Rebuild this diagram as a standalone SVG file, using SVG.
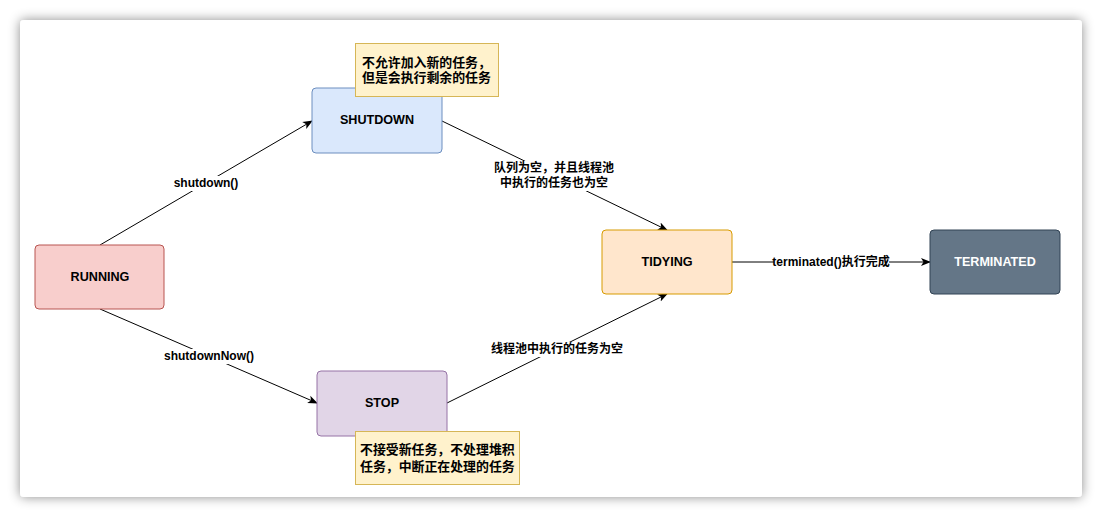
<svg xmlns="http://www.w3.org/2000/svg" width="1102" height="518" viewBox="0 0 1102 518">
<defs>
<filter id="sh" x="-5%" y="-10%" width="110%" height="120%">
<feDropShadow dx="0" dy="0" stdDeviation="6" flood-color="#000" flood-opacity="0.45"/>
</filter>
<marker id="arr" viewBox="0 0 10 10" refX="9" refY="5" markerWidth="10" markerHeight="10" markerUnits="userSpaceOnUse" orient="auto">
<path d="M0,1 L10,5 L0,9 L2.5,5 Z" fill="#000"/>
</marker>
<style>
text{font-family:"Liberation Sans","Noto Sans CJK SC",sans-serif;font-size:12px;font-weight:bold;fill:#000;text-anchor:middle;dominant-baseline:central}
.node rect{stroke-width:1}
.node text{font-size:12.6px}
.edge{stroke:#000;stroke-width:1;fill:none;marker-end:url(#arr)}
.lbl{fill:#fff}
.note rect{fill:#fff2cc;stroke:#d6b656}
.note text{text-anchor:start;font-size:12.9px}
</style>
</defs>
<rect x="0" y="0" width="1102" height="518" fill="#fff"/>
<rect x="20" y="20" width="1062" height="477" rx="4" fill="#fff" filter="url(#sh)"/>
<g id="connectors">
<line class="edge" x1="100" y1="245" x2="312" y2="121"/>
<rect class="lbl" x="173" y="176" width="66" height="15"/>
<text x="206" y="183">shutdown()</text>
<line class="edge" x1="100" y1="309" x2="317" y2="403"/>
<rect class="lbl" x="164" y="349" width="91" height="15"/>
<text x="209" y="356">shutdownNow()</text>
<line class="edge" x1="442" y1="121" x2="667" y2="230"/>
<rect class="lbl" x="494" y="161" width="121" height="30"/>
<text x="554" y="168">队列为空，并且线程池</text>
<text x="554" y="183">中执行的任务也为空</text>
<line class="edge" x1="447" y1="403" x2="667" y2="294"/>
<rect class="lbl" x="491" y="342" width="132" height="15"/>
<text x="557" y="349">线程池中执行的任务为空</text>
<line class="edge" x1="732" y1="262" x2="930" y2="262"/>
<rect class="lbl" x="774" y="255" width="115" height="15"/>
<text x="831" y="262">terminated()执行完成</text>
</g>
<g id="running" class="node">
<rect x="35" y="245" width="129" height="64" rx="4" fill="#f8cecc" stroke="#b85450"/>
<text x="100" y="277">RUNNING</text>
</g>
<g id="shutdown" class="node">
<rect x="312" y="88" width="130" height="65" rx="4" fill="#dae8fc" stroke="#6c8ebf"/>
<text x="377" y="120">SHUTDOWN</text>
</g>
<g id="note1" class="note">
<rect x="355.5" y="43.5" width="143" height="53"/>
<text x="362" y="62">不允许加入新的任务，</text>
<text x="362" y="77">但是会执行剩余的任务</text>
</g>
<g id="tidying" class="node">
<rect x="602" y="230" width="130" height="64" rx="4" fill="#ffe6cc" stroke="#d79b00"/>
<text x="667" y="262">TIDYING</text>
</g>
<g id="terminated" class="node">
<rect x="930" y="230" width="130" height="64" rx="4" fill="#647687" stroke="#314354"/>
<text x="995" y="262" style="fill:#fff">TERMINATED</text>
</g>
<g id="stop" class="node">
<rect x="317" y="371" width="130" height="65" rx="4" fill="#e1d5e7" stroke="#9673a6"/>
<text x="382" y="403">STOP</text>
</g>
<g id="note2" class="note">
<rect x="355.5" y="431.5" width="164" height="53"/>
<text x="360" y="449">不接受新任务，不处理堆积</text>
<text x="360" y="466">任务，中断正在处理的任务</text>
</g>
</svg>
